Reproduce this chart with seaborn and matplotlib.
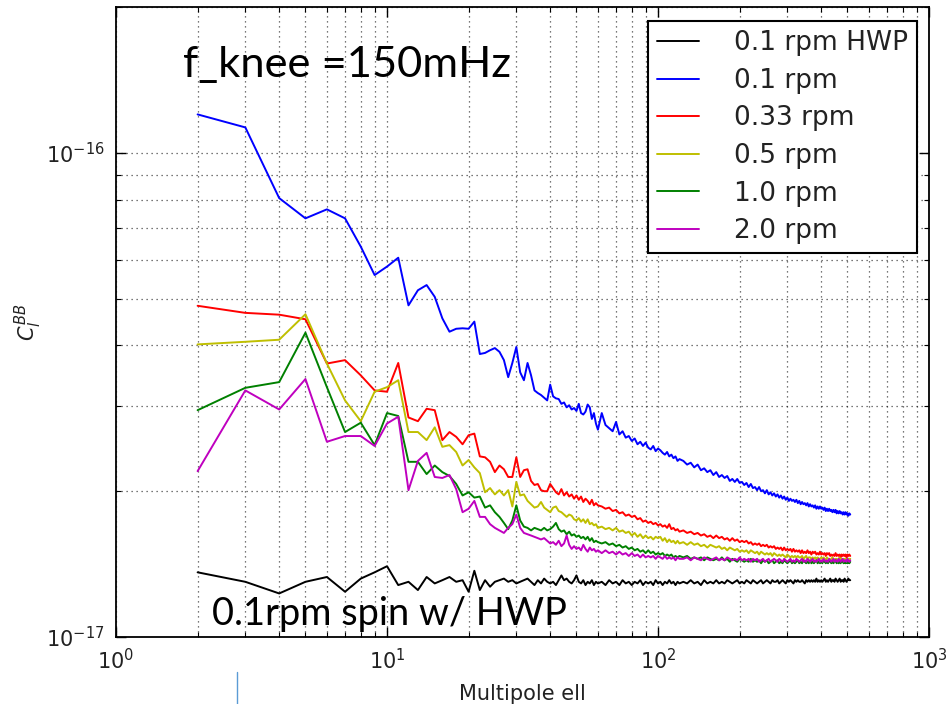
import numpy as np
import pandas as pd
import matplotlib
matplotlib.use("Agg")
import matplotlib.pyplot as plt
from matplotlib.lines import Line2D
from matplotlib.ticker import NullFormatter, FixedLocator, LogFormatterSciNotation
import seaborn as sns

# ---------------- data (C_l^BB in units of 1e-17) ----------------
UNIT = 1e-17
ELL_LOW = list(range(2, 61))          # every multipole
ELL_MID = list(range(62, 121, 2))     # every 2nd multipole
ELL_HIGH = list(range(124, 513, 4))   # every 4th multipole
ELL = ELL_LOW + ELL_MID + ELL_HIGH

LABELS = ["0.1 rpm HWP", "0.1 rpm", "0.33 rpm", "0.5 rpm", "1.0 rpm", "2.0 rpm"]
COLORS = ["#000000", "#0000ff", "#ff0000", "#bfbf00", "#008000", "#bf00bf"]
X_TICKS = [1, 10, 100, 1000]
Y_TICKS = [1e-17, 1e-16]

hwp_01 = [
    1.36, 1.30, 1.23, 1.30, 1.33, 1.24, 1.32, 1.36, 1.40, 1.28,
    1.30, 1.25, 1.33, 1.29, 1.31, 1.33, 1.30, 1.31, 1.24, 1.37,
    1.25, 1.31, 1.27, 1.30, 1.31, 1.32, 1.30, 1.31, 1.29, 1.30,
    1.31, 1.32, 1.30, 1.28, 1.31, 1.29, 1.32, 1.30, 1.29, 1.30,
    1.28, 1.31, 1.34, 1.31, 1.32, 1.30, 1.29, 1.31, 1.34, 1.30,
    1.29, 1.31, 1.28, 1.30, 1.29, 1.31, 1.28, 1.30, 1.29,
    1.30, 1.28, 1.31, 1.29, 1.30, 1.28, 1.31, 1.29, 1.30, 1.28,
    1.30, 1.29, 1.31, 1.28, 1.30, 1.29, 1.30, 1.28, 1.31, 1.29,
    1.30, 1.28, 1.30, 1.29, 1.31, 1.29, 1.30, 1.28, 1.30, 1.29,
    1.30, 1.29, 1.31, 1.29, 1.30, 1.28, 1.31, 1.29, 1.30, 1.29,
    1.31, 1.29, 1.30, 1.29, 1.31, 1.30, 1.29, 1.30, 1.31, 1.29,
    1.30, 1.29, 1.31, 1.30, 1.29, 1.31, 1.30, 1.29, 1.30, 1.31,
    1.29, 1.30, 1.31, 1.30, 1.29, 1.31, 1.30, 1.30, 1.31, 1.29,
    1.30, 1.31, 1.30, 1.29, 1.31, 1.30, 1.31, 1.30, 1.29, 1.31,
    1.30, 1.31, 1.30, 1.30, 1.31, 1.30, 1.29, 1.31, 1.30, 1.31,
    1.30, 1.31, 1.30, 1.31, 1.30, 1.32, 1.30, 1.31, 1.30, 1.31,
    1.30, 1.31, 1.32, 1.30, 1.31, 1.30, 1.31, 1.32, 1.30, 1.31,
    1.31, 1.30, 1.32, 1.31, 1.30, 1.31, 1.32, 1.30, 1.31, 1.31,
    1.30, 1.32, 1.31, 1.30, 1.31, 1.32, 1.31, 1.31,
]

rpm_01 = [
    12.00, 11.28, 8.06, 7.32, 7.64, 7.32, 6.40, 5.59, 5.82, 6.07,
    4.84, 5.20, 5.33, 5.04, 4.55, 4.27, 4.33, 4.34, 4.33, 4.48,
    3.84, 3.86, 3.91, 3.95, 3.88, 3.73, 3.44, 3.68, 3.97, 3.52,
    3.39, 3.68, 3.47, 3.23, 3.19, 3.16, 3.12, 3.08, 3.32, 3.14,
    3.11, 3.10, 3.03, 3.05, 2.98, 3.01, 2.95, 2.97, 2.93, 3.03,
    2.90, 2.88, 2.92, 3.02, 2.98, 2.82, 2.90, 2.76, 2.68,
    2.90, 2.74, 2.70, 2.66, 2.78, 2.62, 2.66, 2.58, 2.60, 2.54,
    2.57, 2.50, 2.53, 2.48, 2.52, 2.46, 2.44, 2.48, 2.42, 2.45,
    2.43, 2.40, 2.38, 2.41, 2.36, 2.38, 2.34, 2.36, 2.31, 2.33,
    2.31, 2.27, 2.29, 2.24, 2.27, 2.21, 2.23, 2.19, 2.21, 2.16,
    2.19, 2.14, 2.16, 2.13, 2.15, 2.10, 2.12, 2.09, 2.12, 2.08,
    2.09, 2.06, 2.08, 2.04, 2.07, 2.03, 2.04, 2.01, 2.04, 2.00,
    2.01, 1.98, 2.01, 1.97, 1.99, 1.96, 1.98, 1.95, 1.97, 1.94,
    1.96, 1.93, 1.95, 1.92, 1.94, 1.91, 1.93, 1.91, 1.92, 1.90,
    1.92, 1.89, 1.91, 1.88, 1.90, 1.88, 1.89, 1.87, 1.89, 1.86,
    1.88, 1.86, 1.87, 1.85, 1.87, 1.84, 1.86, 1.84, 1.86, 1.84,
    1.85, 1.83, 1.85, 1.82, 1.84, 1.82, 1.84, 1.82, 1.83, 1.81,
    1.83, 1.81, 1.83, 1.80, 1.82, 1.80, 1.82, 1.80, 1.81, 1.79,
    1.81, 1.79, 1.81, 1.79, 1.80, 1.78, 1.80, 1.79,
]

rpm_033 = [
    4.83, 4.67, 4.63, 4.53, 3.67, 3.73, 3.47, 3.23, 3.21, 3.68,
    2.84, 2.79, 2.96, 2.94, 2.55, 2.65, 2.59, 2.50, 2.61, 2.63,
    2.36, 2.35, 2.30, 2.19, 2.26, 2.22, 2.14, 2.14, 2.35, 2.14,
    2.21, 2.22, 2.10, 2.06, 2.07, 2.01, 2.00, 2.00, 2.07, 2.03,
    1.99, 1.97, 2.02, 1.96, 1.99, 1.95, 1.97, 1.93, 1.96, 1.92,
    1.95, 1.90, 1.93, 1.91, 1.88, 1.92, 1.87, 1.89, 1.87,
    1.86, 1.84, 1.85, 1.82, 1.83, 1.80, 1.81, 1.78, 1.79, 1.77,
    1.78, 1.75, 1.76, 1.73, 1.74, 1.72, 1.73, 1.71, 1.72, 1.70,
    1.71, 1.69, 1.70, 1.68, 1.71, 1.67, 1.68, 1.66, 1.67, 1.65,
    1.66, 1.64, 1.65, 1.63, 1.64, 1.62, 1.63, 1.61, 1.62, 1.60,
    1.62, 1.60, 1.61, 1.59, 1.60, 1.58, 1.60, 1.58, 1.59, 1.57,
    1.58, 1.57, 1.58, 1.56, 1.57, 1.55, 1.56, 1.55, 1.56, 1.54,
    1.55, 1.54, 1.55, 1.53, 1.54, 1.53, 1.54, 1.52, 1.53, 1.52,
    1.53, 1.51, 1.53, 1.51, 1.52, 1.51, 1.52, 1.50, 1.52, 1.50,
    1.51, 1.50, 1.51, 1.49, 1.51, 1.49, 1.50, 1.49, 1.51, 1.49,
    1.50, 1.48, 1.50, 1.49, 1.50, 1.48, 1.49, 1.48, 1.50, 1.48,
    1.49, 1.48, 1.49, 1.47, 1.49, 1.48, 1.49, 1.47, 1.48, 1.47,
    1.48, 1.47, 1.49, 1.47, 1.48, 1.47, 1.48, 1.46, 1.48, 1.47,
    1.48, 1.47, 1.48, 1.46, 1.48, 1.47, 1.48, 1.47,
]

rpm_05 = [
    4.02, 4.07, 4.11, 4.64, 3.67, 3.08, 2.79, 3.21, 3.28, 3.39,
    2.65, 2.65, 2.55, 2.71, 2.47, 2.49, 2.41, 2.26, 2.32, 2.24,
    2.18, 1.99, 2.03, 1.97, 2.01, 1.96, 2.01, 1.86, 2.09, 1.96,
    1.97, 1.91, 1.88, 1.85, 1.86, 1.90, 1.85, 1.83, 1.81, 1.85,
    1.86, 1.82, 1.81, 1.79, 1.77, 1.79, 1.78, 1.75, 1.74, 1.76,
    1.73, 1.75, 1.72, 1.75, 1.71, 1.72, 1.70, 1.71, 1.68,
    1.69, 1.67, 1.68, 1.66, 1.68, 1.65, 1.66, 1.64, 1.65, 1.62,
    1.64, 1.61, 1.63, 1.60, 1.62, 1.60, 1.61, 1.59, 1.61, 1.60,
    1.61, 1.58, 1.60, 1.57, 1.59, 1.57, 1.58, 1.56, 1.58, 1.56,
    1.57, 1.55, 1.57, 1.55, 1.56, 1.54, 1.55, 1.53, 1.55, 1.54,
    1.53, 1.54, 1.52, 1.53, 1.51, 1.53, 1.52, 1.51, 1.52, 1.50,
    1.51, 1.50, 1.51, 1.49, 1.51, 1.50, 1.49, 1.50, 1.48, 1.50,
    1.49, 1.48, 1.49, 1.48, 1.49, 1.47, 1.49, 1.48, 1.47, 1.48,
    1.47, 1.48, 1.47, 1.46, 1.48, 1.47, 1.46, 1.47, 1.46, 1.47,
    1.46, 1.47, 1.46, 1.46, 1.47, 1.45, 1.46, 1.47, 1.45, 1.46,
    1.46, 1.45, 1.46, 1.45, 1.46, 1.45, 1.46, 1.45, 1.45, 1.46,
    1.45, 1.46, 1.45, 1.44, 1.46, 1.45, 1.45, 1.44, 1.45, 1.46,
    1.45, 1.44, 1.45, 1.45, 1.44, 1.45, 1.46, 1.44, 1.45, 1.44,
    1.45, 1.45, 1.44, 1.45, 1.44, 1.45, 1.45, 1.45,
]

rpm_10 = [
    2.94, 3.27, 3.36, 4.25, 3.28, 2.65, 2.77, 2.49, 2.90, 2.86,
    2.30, 2.30, 2.17, 2.26, 2.19, 2.15, 2.07, 1.96, 1.99, 1.94,
    1.95, 1.85, 1.87, 1.81, 1.77, 1.72, 1.67, 1.74, 1.87, 1.74,
    1.69, 1.68, 1.66, 1.68, 1.67, 1.66, 1.68, 1.66, 1.67, 1.69,
    1.72, 1.67, 1.65, 1.66, 1.63, 1.65, 1.62, 1.63, 1.61, 1.62,
    1.60, 1.61, 1.59, 1.61, 1.58, 1.60, 1.57, 1.58, 1.57,
    1.56, 1.57, 1.55, 1.56, 1.54, 1.55, 1.53, 1.54, 1.52, 1.53,
    1.51, 1.52, 1.50, 1.51, 1.49, 1.51, 1.49, 1.50, 1.48, 1.49,
    1.48, 1.49, 1.47, 1.48, 1.47, 1.48, 1.46, 1.47, 1.46, 1.47,
    1.46, 1.47, 1.45, 1.46, 1.45, 1.46, 1.44, 1.46, 1.45, 1.44,
    1.45, 1.44, 1.46, 1.44, 1.45, 1.43, 1.45, 1.44, 1.43, 1.45,
    1.44, 1.43, 1.44, 1.43, 1.45, 1.43, 1.44, 1.43, 1.44, 1.42,
    1.44, 1.43, 1.44, 1.42, 1.43, 1.44, 1.42, 1.43, 1.44, 1.42,
    1.43, 1.42, 1.44, 1.43, 1.42, 1.43, 1.44, 1.42, 1.43, 1.42,
    1.43, 1.44, 1.42, 1.43, 1.42, 1.44, 1.43, 1.42, 1.43, 1.42,
    1.44, 1.42, 1.43, 1.42, 1.43, 1.44, 1.42, 1.43, 1.42, 1.43,
    1.42, 1.44, 1.43, 1.42, 1.43, 1.42, 1.44, 1.43, 1.42, 1.43,
    1.42, 1.43, 1.44, 1.42, 1.43, 1.42, 1.43, 1.42, 1.44, 1.43,
    1.42, 1.43, 1.42, 1.43, 1.42, 1.43, 1.42, 1.43,
]

rpm_20 = [
    2.20, 3.23, 2.95, 3.41, 2.53, 2.60, 2.60, 2.48, 2.76, 2.85,
    2.01, 2.31, 2.40, 2.14, 2.13, 2.16, 2.02, 1.81, 1.84, 1.91,
    1.77, 1.77, 1.71, 1.68, 1.66, 1.64, 1.68, 1.71, 1.79, 1.68,
    1.64, 1.63, 1.62, 1.61, 1.60, 1.59, 1.60, 1.58, 1.56, 1.57,
    1.55, 1.58, 1.54, 1.56, 1.62, 1.55, 1.52, 1.54, 1.52, 1.53,
    1.51, 1.55, 1.52, 1.50, 1.53, 1.51, 1.52, 1.50, 1.51,
    1.49, 1.51, 1.49, 1.50, 1.48, 1.50, 1.48, 1.49, 1.47, 1.49,
    1.47, 1.48, 1.46, 1.48, 1.46, 1.47, 1.46, 1.47, 1.45, 1.47,
    1.46, 1.45, 1.47, 1.45, 1.46, 1.45, 1.46, 1.44, 1.46, 1.45,
    1.45, 1.46, 1.44, 1.46, 1.45, 1.44, 1.46, 1.45, 1.44, 1.45,
    1.46, 1.44, 1.45, 1.44, 1.46, 1.45, 1.44, 1.45, 1.44, 1.46,
    1.44, 1.45, 1.44, 1.45, 1.43, 1.45, 1.44, 1.45, 1.43, 1.44,
    1.45, 1.43, 1.44, 1.45, 1.43, 1.44, 1.45, 1.44, 1.43, 1.45,
    1.44, 1.43, 1.45, 1.44, 1.43, 1.44, 1.45, 1.43, 1.44, 1.43,
    1.45, 1.44, 1.43, 1.44, 1.45, 1.43, 1.44, 1.43, 1.45, 1.44,
    1.43, 1.44, 1.45, 1.43, 1.44, 1.43, 1.44, 1.45, 1.43, 1.44,
    1.43, 1.45, 1.44, 1.43, 1.44, 1.43, 1.45, 1.44, 1.43, 1.44,
    1.45, 1.43, 1.44, 1.44, 1.43, 1.45, 1.44, 1.43, 1.44, 1.45,
    1.43, 1.44, 1.44, 1.43, 1.45, 1.44, 1.43, 1.44,
]

SERIES = [hwp_01, rpm_01, rpm_033, rpm_05, rpm_10, rpm_20]

# ---------------- build long-form table ----------------
frames = []
for lab, vals in zip(LABELS, SERIES):
    frames.append(pd.DataFrame({"ell": ELL,
                                "cl": np.asarray(vals) * UNIT,
                                "run": lab}))
df = pd.concat(frames, ignore_index=True)

# ---------------- style ----------------
sns.set_style("ticks")
plt.rcParams["font.family"] = ["DejaVu Sans"]
plt.rcParams["mathtext.fontset"] = "dejavusans"

fig = plt.figure(figsize=(9.51, 7.04), dpi=100)
ax = fig.add_axes([0.1220, 0.0952, 0.8549, 0.8949])

sns.lineplot(data=df, x="ell", y="cl", hue="run", hue_order=LABELS,
             palette=dict(zip(LABELS, COLORS)), estimator=None, sort=False,
             linewidth=1.4, ax=ax, legend=False)

ax.set_xscale("log")
ax.set_yscale("log")
ax.set_xlim(1, 1000)
ax.set_ylim(1e-17, 2e-16)
ax.xaxis.set_major_locator(FixedLocator(X_TICKS))
ax.yaxis.set_major_locator(FixedLocator(Y_TICKS))
ax.xaxis.set_major_formatter(LogFormatterSciNotation())
ax.yaxis.set_major_formatter(LogFormatterSciNotation())
ax.yaxis.set_minor_formatter(NullFormatter())
ax.xaxis.set_minor_formatter(NullFormatter())

ax.grid(True, which="both", color="k", linestyle=(0, (1, 3)),
        linewidth=0.9, alpha=0.7)
for sp in ax.spines.values():
    sp.set_linewidth(1.3)
    sp.set_color("k")
ax.tick_params(which="both", direction="in", top=True, right=True,
               colors="k", labelcolor="#222222")
ax.tick_params(which="major", length=7, width=1, labelsize=15, pad=8)
ax.tick_params(which="minor", length=3.5, width=0.8)

ax.set_xlabel("Multipole ell", fontsize=15, color="#222222", labelpad=8)
ax.set_ylabel(r"$C_l^{BB}$", fontsize=15, color="#222222")
ax.yaxis.set_label_coords(-0.089, 0.5)

handles = [Line2D([], [], color=c, lw=1.4) for c in COLORS]
leg = ax.legend(handles, LABELS, loc="upper right",
                bbox_to_anchor=(0.9852, 0.9778), borderaxespad=0,
                fontsize=19, frameon=True, fancybox=False, framealpha=1,
                edgecolor="k", handlelength=1.6, handletextpad=1.3,
                labelspacing=0.44, borderpad=0.35)
leg.get_frame().set_linewidth(1.5)
for t in leg.get_texts():
    t.set_color("#222222")

fig.text(0.1924, 0.8906, "f_knee =150mHz", fontsize=31.3,
         family=["Lato", "DejaVu Sans"], va="baseline", color="black")
fig.text(0.2229, 0.1122, "0.1rpm spin w/ HWP", fontsize=27.4,
         family=["Lato", "DejaVu Sans"], va="baseline", color="black")

fig.add_artist(Line2D([237 / 951, 237 / 951], [0.0, 32 / 704],
                      transform=fig.transFigure, color="#5b9bd5", lw=1))

fig.savefig("out.png", dpi=100, facecolor="white")
